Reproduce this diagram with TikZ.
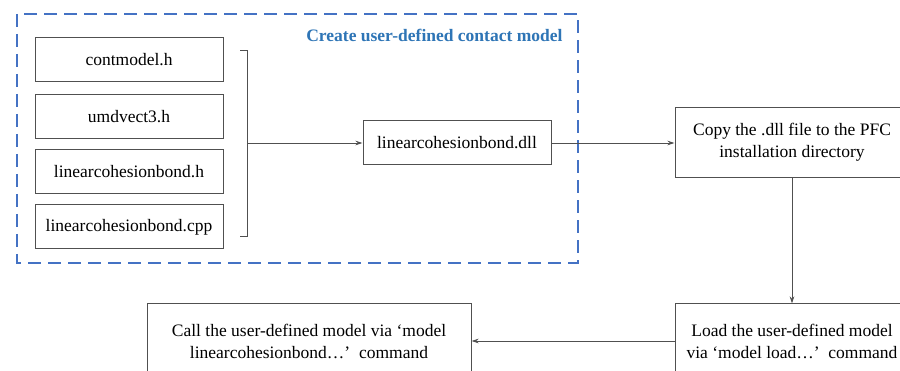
\documentclass[tikz,border=0pt]{standalone}
\usepackage{fontspec}
\setmainfont{Liberation Serif}
\usetikzlibrary{arrows.meta}
\definecolor{dashblue}{HTML}{4472C4}
\definecolor{titleblue}{HTML}{2E75B6}
\definecolor{boxgray}{HTML}{505050}
\tikzset{
  box/.style={draw=boxgray, line width=1pt, fill=white, align=center, inner sep=2pt,
    font=\fontsize{17.5}{22}\selectfont},
  conn/.style={draw=boxgray, line width=0.9pt},
  arr/.style={conn, -{Stealth[length=7pt,width=4.5pt]}},
}
\begin{document}
\begin{tikzpicture}[x=1pt,y=-1pt]
\clip (0,0) rectangle (900,371);
\fill[white] (0,0) rectangle (900,371);
% dashed group
\draw[dashblue, line width=2.8pt, dash pattern=on 13pt off 7pt] (17,14) rectangle (578,263);
\node[anchor=east, text=titleblue, font=\fontsize{17.5}{22}\selectfont\bfseries] (title) at (566,35) {Create user-defined contact model};
% source files
\node[box, minimum width=188pt, minimum height=44pt] (f1) at (129,60) {contmodel.h};
\node[box, minimum width=188pt, minimum height=44pt] (f2) at (129,116.5) {umdvect3.h};
\node[box, minimum width=188pt, minimum height=44pt] (f3) at (129,171.5) {linearcohesionbond.h};
\node[box, minimum width=188pt, minimum height=44pt] (f4) at (129,227) {linearcohesionbond.cpp};
% bracket
\coordinate (bt) at (247,50);
\coordinate (bb) at (247,236);
\coordinate (bm) at (247,143);
\draw[conn] (240,50) -- (bt) -- (bb) -- (240,236);
% dll
\node[box, minimum width=188pt, minimum height=44pt] (dll) at (457,143) {linearcohesionbond.dll};
\draw[arr] (bm) -- (dll.west);
% copy
\node[box, minimum width=234pt, minimum height=70pt] (copy) at (792,142.5) {Copy the .dll file to the PFC\\installation directory};
\draw[arr] (dll.east) -- (dll.east -| copy.west);
% load
\node[box, minimum width=234pt, minimum height=74pt] (load) at (792,341) {Load the user-defined model\\via ‘model load…’\ \ command};
\draw[arr] (copy.south) -- (load.north);
% call
\node[box, minimum width=324pt, minimum height=74pt] (call) at (309,341) {Call the user-defined model via ‘model\\linearcohesionbond…’\ \ command};
\draw[arr] (load.west) -- (call.east);
\end{tikzpicture}
\end{document}
